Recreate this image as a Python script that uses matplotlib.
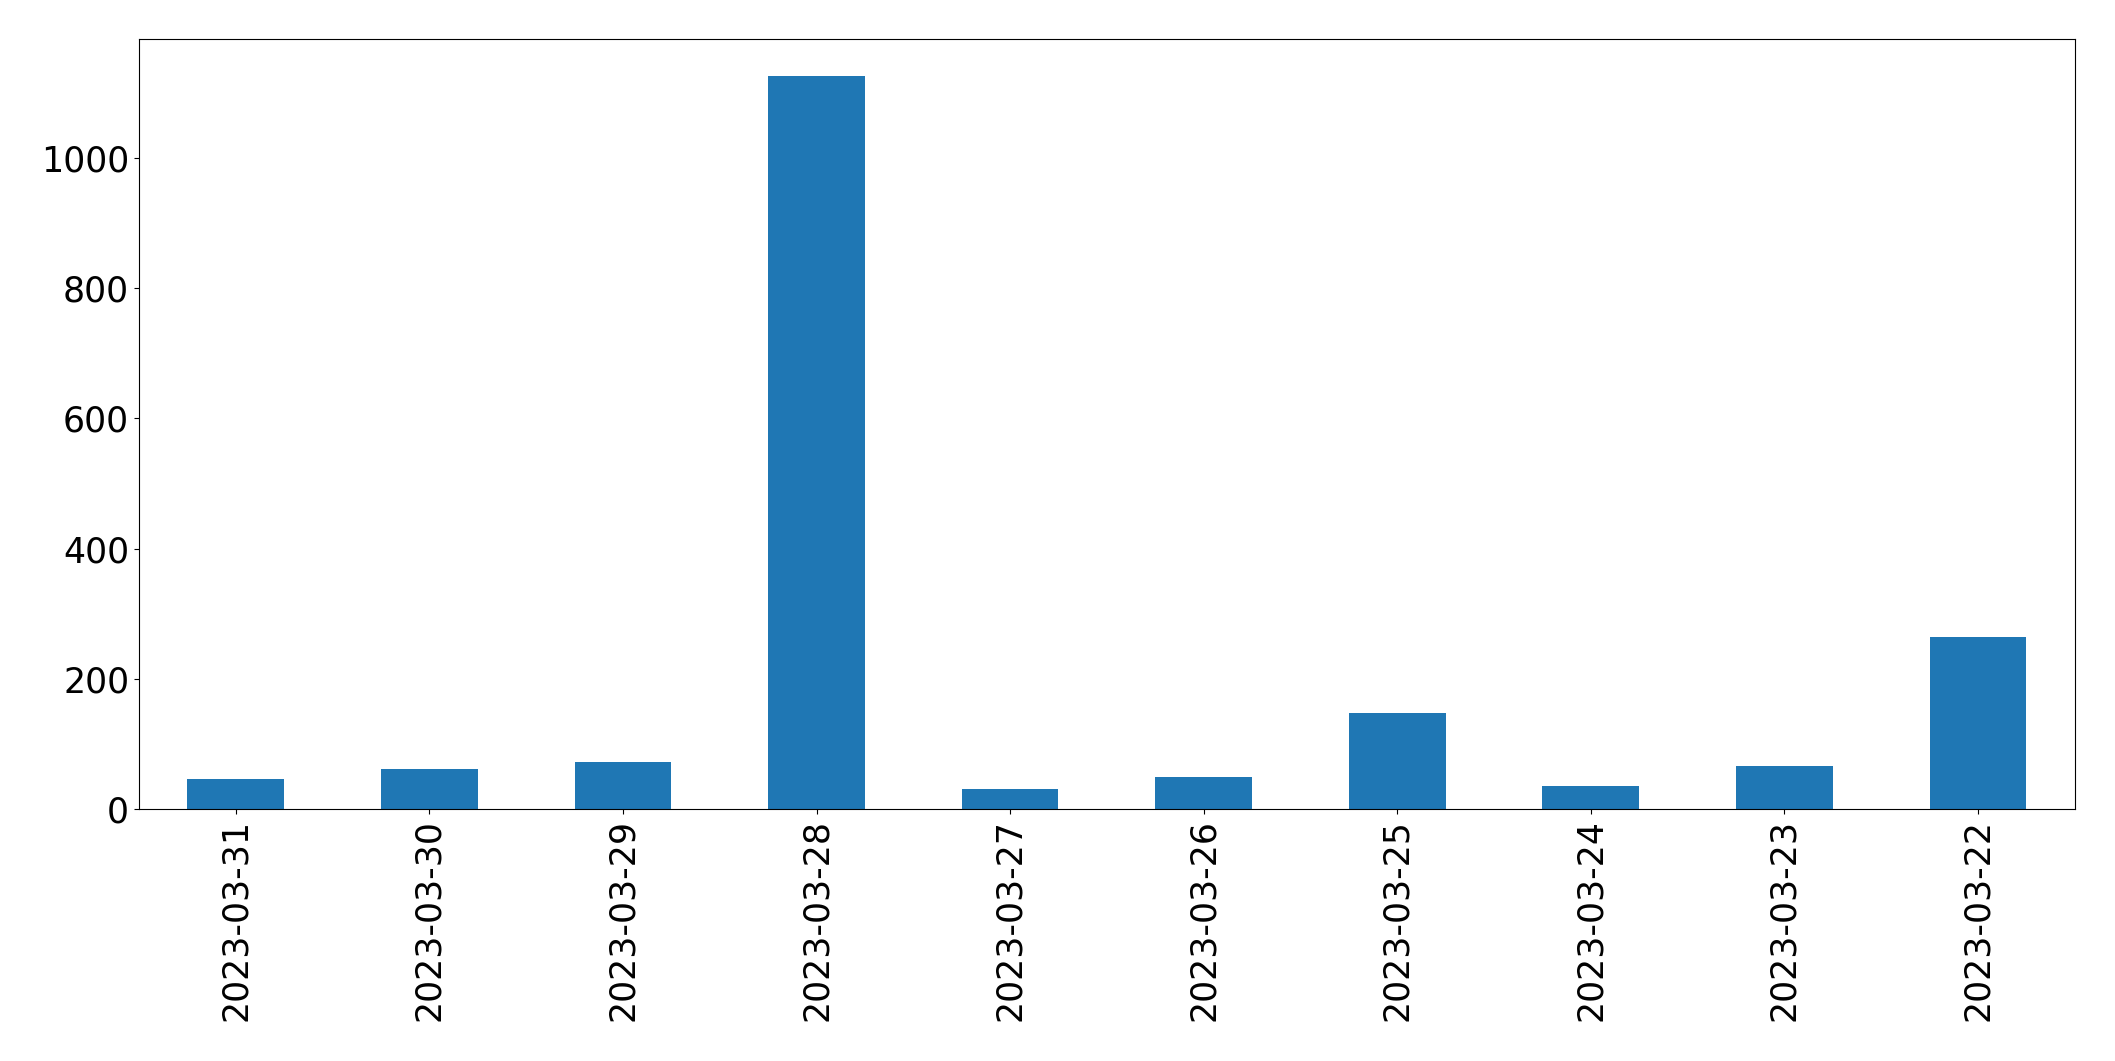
import matplotlib
matplotlib.use("Agg")
import numpy as np
import matplotlib.pyplot as plt

fechas = ["2023-03-31", "2023-03-30", "2023-03-29", "2023-03-28", "2023-03-27",
          "2023-03-26", "2023-03-25", "2023-03-24", "2023-03-23", "2023-03-22"]
cantidades = [46, 61, 72, 1126, 31, 49, 147, 35, 66, 264]

fig = plt.figure(figsize=(21.15, 10.61), dpi=100)
ax = fig.add_axes([0.0657, 0.2375, 0.9153, 0.7255])

x = np.arange(len(fechas))
ax.bar(x, cantidades, width=0.5, color="#1f77b4")
ax.set_xlim(-0.5, len(fechas) - 0.5)
ax.set_xticks(x)
ax.set_xticklabels(fechas, rotation=90)
ax.tick_params(axis="both", labelsize=25)

fig.savefig("out.png", dpi=100)
